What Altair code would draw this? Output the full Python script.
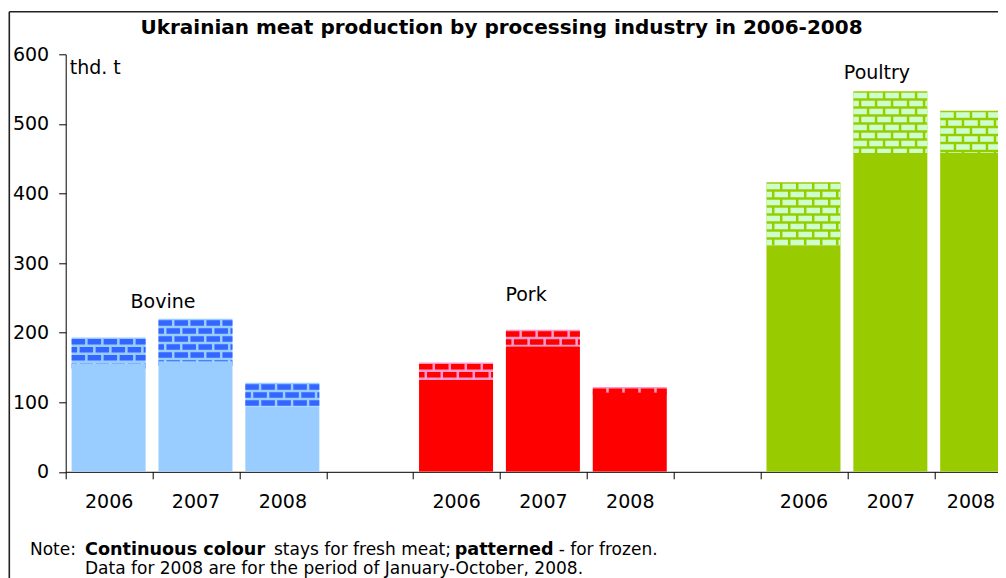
import altair as alt
import pandas as pd

# ---------------- data ----------------
groups = ["Bovine", "Pork", "Poultry"]
years = ["2006", "2007", "2008"]
bovine_fresh = [156, 159, 94]
bovine_frozen = [37, 61, 34]
pork_fresh = [132, 180, 114]
pork_frozen = [25, 24, 8]
poultry_fresh = [325, 458, 458]
poultry_frozen = [91, 89, 61]
y_ticks = [0, 100, 200, 300, 400, 500, 600]

title_text = "Ukrainian meat production by processing industry in 2006-2008"
unit_text = "thd. t"
note_line1 = [("Note: ", False), ("Continuous colour", True), (" stays for fresh meat; ", False),
              ("patterned", True), (" - for frozen.", False)]
note_line2 = "Data for 2008 are for the period of January-October, 2008."

# ---------------- styles / layout ----------------
FONT = "DejaVu Sans"
fresh_col = {"Bovine": "#99CCFF", "Pork": "#FF0000", "Poultry": "#99CC00"}
brick_col = {"Bovine": "#3366FF", "Pork": "#FF0000", "Poultry": "#CCFFCC"}
mortar_col = {"Bovine": "#99CCFF", "Pork": "#FF99CC", "Poultry": "#99CC00"}

PAD_L = 57.7
TOTAL_W = 990
PLOT_W = TOTAL_W - PAD_L
PLOT_H = 417.5
SLOT_PX = 86.86
Y_MAX = 600
X_MAX = PLOT_W / SLOT_PX
LABEL_X_MAX = (PLOT_W - 27) / SLOT_PX   # keep last year label inside the picture
BAR_L, BAR_R = 0.068, 0.92
PPU = PLOT_H / Y_MAX          # pixels per unit
BRICK_PITCH = 8.0             # px
BRICK_H = 5.5                 # px
GROUP_STEP = 4                # 3 bars + 1 empty slot

label_slot = [1.12, 5.30, 9.34]
label_val = [244, 254, 573]
note_x1 = [-35.7, 19.3, 208.3, 389.0, 493.0]
note_x2 = 19.3
note_y1 = 496.0
note_y2 = 515.0

fresh = {"Bovine": bovine_fresh, "Pork": pork_fresh, "Poultry": poultry_fresh}
frozen = {"Bovine": bovine_frozen, "Pork": pork_frozen, "Poultry": poultry_frozen}

rows, bricks = [], []
for gi, g in enumerate(groups):
    for yi, yr in enumerate(years):
        slot = gi * GROUP_STEP + yi
        f = fresh[g][yi]
        z = frozen[g][yi]
        t = f + z
        rows.append(dict(group=g, year=yr, x0=slot + BAR_L, x1=slot + BAR_R,
                         xc=min(slot + 0.5, LABEL_X_MAX),
                         zero=0, fresh=f, total=t, fcol=fresh_col[g], mcol=mortar_col[g]))
        k = 0
        while 1.5 + k * BRICK_PITCH < z * PPU:
            center = t - (1.5 + k * BRICK_PITCH + BRICK_H / 2) / PPU
            bricks.append(dict(x0=slot + BAR_L, x1=slot + BAR_R, y=center,
                               bcol=brick_col[g], parity=k % 2))
            k += 1

bars = pd.DataFrame(rows)
brk = pd.DataFrame(bricks)
labels = pd.DataFrame(dict(text=groups, xs=label_slot, yv=label_val))

xscale = alt.Scale(domain=[0, X_MAX], nice=False, zero=False)
yscale = alt.Scale(domain=[0, Y_MAX], nice=False)
xaxis = alt.Axis(values=list(range(0, 11)), labels=False, grid=False, tickSize=7,
                 domainColor="black", tickColor="black", title=None)
yaxis = alt.Axis(values=y_ticks, grid=False, tickSize=7, labelFontSize=19,
                 labelPadding=10, labelColor="black", domainColor="black",
                 tickColor="black", title=unit_text, titleAngle=0, titleAlign="left",
                 titleBaseline="middle", titleX=3.5, titleY=12.7, titleFontSize=19,
                 titleFontWeight="normal", titleColor="black")


def X(field):
    return alt.X(field, scale=xscale, axis=xaxis)


def Y(field):
    return alt.Y(field, scale=yscale, axis=yaxis)


base = alt.Chart(bars)

mortar_layer = base.mark_rect(clip=True).encode(
    x=X("x0:Q"), x2="x1:Q", y=Y("fresh:Q"), y2="total:Q",
    color=alt.Color("mcol:N", scale=None),
)


def brick_layer(parity, offset):
    return alt.Chart(brk[brk.parity == parity]).mark_rule(
        clip=True, strokeWidth=BRICK_H, strokeDash=[13.5, 2.5], strokeDashOffset=offset
    ).encode(
        x=X("x0:Q"), x2="x1:Q", y=Y("y:Q"),
        color=alt.Color("bcol:N", scale=None),
    )


fresh_layer = base.mark_rect(clip=True).encode(
    x=X("x0:Q"), x2="x1:Q", y=Y("zero:Q"), y2="fresh:Q",
    color=alt.Color("fcol:N", scale=None),
)

year_text = base.mark_text(fontSize=19, font=FONT, baseline="middle", color="black").encode(
    x=X("xc:Q"), y=alt.value(447.2), text="year:N",
)

group_text = alt.Chart(labels).mark_text(fontSize=19, font=FONT, baseline="middle",
                                         color="black").encode(
    x=X("xs:Q"), y=Y("yv:Q"), text="text:N",
)

title_layer = alt.Chart(pd.DataFrame({"t": [title_text]})).mark_text(
    fontSize=20, fontWeight="bold", font=FONT, baseline="middle", align="center", color="black"
).encode(x=alt.value(435.8), y=alt.value(-26), text="t:N")

note_layers = []
for (txt, bold), nx in zip(note_line1, note_x1):
    note_layers.append(
        alt.Chart(pd.DataFrame({"t": [txt]})).mark_text(
            fontSize=17.6 if bold else 17, fontWeight="bold" if bold else "normal", font=FONT,
            align="left", baseline="middle", color="black"
        ).encode(x=alt.value(nx), y=alt.value(note_y1), text="t:N")
    )
note_layers.append(
    alt.Chart(pd.DataFrame({"t": [note_line2]})).mark_text(
        fontSize=17, font=FONT, align="left", baseline="middle", color="black"
    ).encode(x=alt.value(note_x2), y=alt.value(note_y2), text="t:N")
)

frame_top = alt.Chart(pd.DataFrame({"a": [0]})).mark_rule(color="#222", strokeWidth=1.6).encode(
    x=alt.value(-56.4), x2=alt.value(1000), y=alt.value(-42.6))
frame_left = alt.Chart(pd.DataFrame({"a": [0]})).mark_rule(color="#222", strokeWidth=1.6).encode(
    x=alt.value(-56.4), y=alt.value(-42.6), y2=alt.value(600))

chart = alt.layer(
    mortar_layer, brick_layer(0, 0), brick_layer(1, 8), fresh_layer,
    year_text, group_text, title_layer, *note_layers, frame_top, frame_left
).properties(
    width=PLOT_W, height=PLOT_H,
    autosize=alt.AutoSizeParams(type="none"),
    padding={"left": PAD_L, "top": 46.3, "right": 0, "bottom": 106.2},
    background="white",
).configure_view(stroke=None).configure_axis(
    labelFont=FONT, titleFont=FONT
)

chart.save("out.html", embed_options={"renderer": "svg", "actions": False})
